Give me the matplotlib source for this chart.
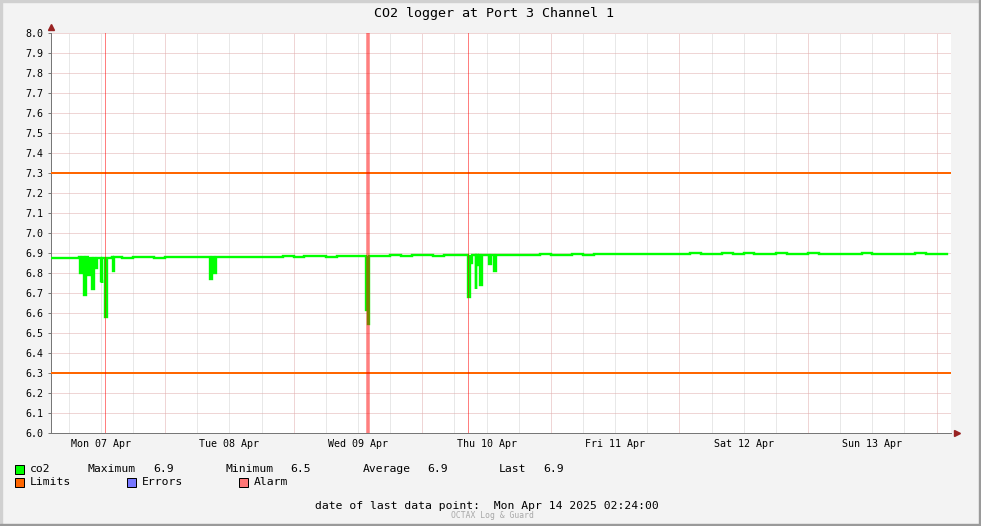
import numpy as np
import matplotlib
matplotlib.use("Agg")
import matplotlib.pyplot as plt
from matplotlib.patches import Rectangle

# time axis in hours since Mon 07 Apr 00:00
base_hours = np.arange(2, 171, 2)
base_co2 = [
    6.876, 6.877, 6.876, 6.878, 6.877, 6.876, 6.878, 6.877, 6.879, 6.878,
    6.877, 6.879, 6.878, 6.880, 6.879, 6.878, 6.880, 6.881, 6.879, 6.881,
    6.882, 6.880, 6.883, 6.882, 6.884, 6.883, 6.882, 6.885, 6.886, 6.884,
    6.887, 6.886, 6.888, 6.887, 6.889, 6.888, 6.887, 6.889, 6.890, 6.889,
    6.891, 6.890, 6.889, 6.891, 6.892, 6.890, 6.893, 6.891, 6.892, 6.894,
    6.892, 6.893, 6.895, 6.893, 6.894, 6.896, 6.894, 6.895, 6.897, 6.896,
    6.898, 6.896, 6.897, 6.899, 6.897, 6.898, 6.896, 6.897, 6.899, 6.897,
    6.896, 6.898, 6.897, 6.895, 6.897, 6.896, 6.898, 6.896, 6.895, 6.897,
    6.896, 6.898, 6.897, 6.896, 6.897]

# short dips in the co2 reading
dip_hours = [8.12, 8.92, 9.67, 9.99, 10.42, 10.92, 12.0, 12.3, 12.84, 13.10, 14.22,
             32.39, 33.19,
             61.51, 61.94,
             80.60, 80.92, 81.99, 82.36, 82.85, 84.47, 85.46]
dip_co2 = [6.80, 6.69, 6.79, 6.815, 6.72, 6.825, 6.76, 6.75, 6.58, 6.81, 6.81,
           6.77, 6.80,
           6.615, 6.545,
           6.68, 6.85, 6.72, 6.84, 6.74, 6.845, 6.81]
dip_len = 0.3

limits = [7.3, 6.3]
alarm_hours = [12.79, 61.83, 80.55]
alarm_width = [1.0, 3.5, 1.0]  # px

day_noon = [12, 36, 60, 84, 108, 132, 156]
day_labels = ["Mon 07 Apr", "Tue 08 Apr", "Wed 09 Apr", "Thu 10 Apr",
              "Fri 11 Apr", "Sat 12 Apr", "Sun 13 Apr"]

last_point = "Mon Apr 14 2025 02:24:00"

# assemble the series (dip returns to the preceding baseline sample)
bt = np.array(base_hours, float)
bv = np.array(base_co2)
dt = np.array(dip_hours)
back = bv[np.searchsorted(bt, dt + dip_len, side="right") - 1]
t = np.concatenate([bt, dt, dt + dip_len])
v = np.concatenate([bv, dip_co2, back])
order = np.argsort(t, kind="stable")
t, v = t[order], v[order]

W, H = 981, 526
BG = "#f3f3f3"
MONO = "DejaVu Sans Mono"
plt.rcParams["font.family"] = MONO

fig = plt.figure(figsize=(W / 100, H / 100), dpi=100, facecolor=BG)


def fx(x):
    return x / W


def fy(y):
    return 1 - y / H


ax = fig.add_axes([fx(51), fy(433), 900 / W, 400 / H])
ax.set_facecolor("white")
ax.set_xlim(2.7, 170.7)
ax.set_ylim(6.0, 8.0)

px = 0.72
# dotted grid
for h in np.arange(6, 171, 6):
    major = h % 24 == 0
    ax.axvline(h, color="#e0acac" if major else "#d2d2d2", lw=px,
               ls=(0, (1, 1)), zorder=1)
for yv in np.arange(6.1, 8.01, 0.1):
    ax.axhline(yv, color="#e0acac", lw=px, ls=(0, (1, 1)), zorder=1)

ax.plot(t, v, drawstyle="steps-post", color="#00ff00", lw=1.7, zorder=3,
        solid_joinstyle="miter")
for lim in limits:
    ax.axhline(lim, color="#ff6600", lw=2 * px, zorder=4)
for h, w in zip(alarm_hours, alarm_width):
    ax.axvline(h, color="red", alpha=0.5, lw=w * px, zorder=5)

for s in ["top", "right"]:
    ax.spines[s].set_visible(False)
for s in ["left", "bottom"]:
    ax.spines[s].set_color("#777777")
    ax.spines[s].set_linewidth(px)
ax.set_yticks(np.round(np.arange(6.0, 8.01, 0.1), 1))
ax.set_yticklabels([f"{y:.1f}" for y in np.arange(6.0, 8.01, 0.1)])
ax.set_xticks(day_noon)
ax.set_xticklabels(day_labels)
ax.tick_params(axis="y", length=2.5, width=px, color="#777777", pad=3,
               labelsize=7.2)
ax.tick_params(axis="x", length=0, pad=4, labelsize=7.2)

# axis arrows
ax.plot([0], [1.014], marker="^", ms=4.5, color="#992222",
        transform=ax.transAxes, clip_on=False, zorder=6)
ax.plot([1.0067], [0], marker=">", ms=4.5, color="#992222",
        transform=ax.transAxes, clip_on=False, zorder=6)

fig.text(fx(494), fy(13), "CO2 logger at Port 3 Channel 1", ha="center",
         va="center", fontsize=9.6)

FS = 8.2


def square(x, y, c):
    fig.patches.append(Rectangle((fx(x), fy(y + 9)), 9 / W, 9 / H, facecolor=c,
                                 edgecolor="black", lw=px,
                                 transform=fig.transFigure))


square(15, 464.5, "#00ff00")
fig.text(fx(30), fy(469), "co2", va="center", fontsize=FS)
stats = [("Maximum", np.max(v), 88, 153), ("Minimum", np.min(v), 226, 290),
         ("Average", np.mean(v), 363, 427), ("Last", v[-1], 499, 543)]
for name, val, xn, xv in stats:
    fig.text(fx(xn), fy(469), name, va="center", fontsize=FS)
    fig.text(fx(xv), fy(469), f"{val:.1f}", va="center", fontsize=FS)

for x, c, lab in [(15, "#ff6600", "Limits"), (127, "#7777ff", "Errors"),
                  (239, "#ff7777", "Alarm")]:
    square(x, 477.5, c)
    fig.text(fx(x + 15), fy(482), lab, va="center", fontsize=FS)

fig.text(fx(315), fy(506), "date of last data point:  " + last_point,
         va="center", fontsize=FS)
fig.text(fx(492), fy(516), "OCTAX Log & Guard", ha="center", va="center",
         fontsize=5.8, color="#a8a8a8")

# frame around the image
fig.patches.append(Rectangle((0, fy(2)), 1, 2 / H, color="#d0d0d0",
                             transform=fig.transFigure))
fig.patches.append(Rectangle((0, 0), 2 / W, 1, color="#d0d0d0",
                             transform=fig.transFigure))
fig.patches.append(Rectangle((fx(979), 0), 2 / W, 1, color="#9a9a9a",
                             transform=fig.transFigure))
fig.patches.append(Rectangle((0, 0), 1, 2 / H, color="#9a9a9a",
                             transform=fig.transFigure))

fig.savefig("out.png", dpi=100, facecolor=BG)
